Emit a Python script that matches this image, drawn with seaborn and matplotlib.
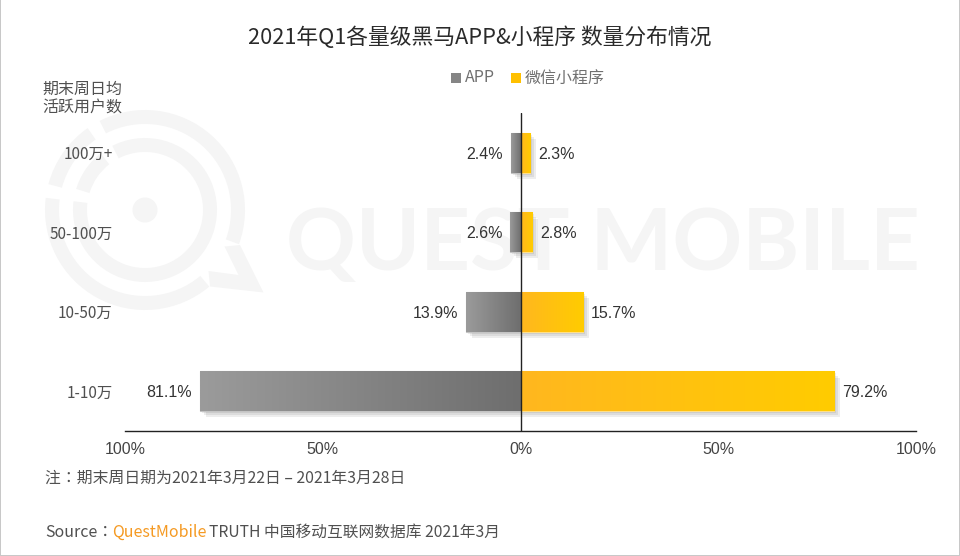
import numpy as np
import pandas as pd
import matplotlib
matplotlib.use('Agg')
import matplotlib.pyplot as plt
import matplotlib.patheffects as pe
from matplotlib.colors import LinearSegmentedColormap
from matplotlib.patches import Wedge, Circle, Rectangle, Polygon
import seaborn as sns

categories = ['100万+', '50-100万', '10-50万', '1-10万']
app_share = [2.4, 2.6, 13.9, 81.1]
mini_share = [2.3, 2.8, 15.7, 79.2]
x_ticks = [-100, -50, 0, 50, 100]
x_tick_labels = ['100%', '50%', '0%', '50%', '100%']

LATIN = ['Liberation Sans', 'Noto Sans CJK SC', 'DejaVu Sans']
CJK = ['Noto Sans CJK SC', 'DejaVu Sans']
CJK_TC = ['Noto Sans CJK TC', 'DejaVu Sans']
W, H = 960, 556

sns.set_theme(style='white')
plt.rcParams['font.family'] = LATIN

df = pd.DataFrame({
    'cat': categories * 2,
    'value': [-v for v in app_share] + mini_share,
    'series': ['APP'] * 4 + ['微信小程序'] * 4,
})

fig = plt.figure(figsize=(W / 100, H / 100), dpi=100)
ax = fig.add_axes([125 / W, 1 - 431 / H, 791 / W, 318 / H])
ax.set_zorder(2)
ax.patch.set_alpha(0)

# watermark sits on its own pixel-coordinate axes behind the chart
bg = fig.add_axes([0, 0, 1, 1], zorder=0)
bg.set_xlim(0, W)
bg.set_ylim(H, 0)
bg.axis('off')
WM = '#f5f5f5'
cx, cy = 145, 210
for r, t1, t2 in [(100, -20, 117), (100, 125, 165), (100, 173, 310),
                  (72, 173, 477), (72, 128, 163)]:
    # y axis is flipped, so angles are mirrored
    bg.add_patch(Wedge((cx, cy), r, -t2, -t1, width=14, color=WM, lw=0))
bg.add_patch(Circle((cx, cy), 12.5, color=WM, lw=0))
bg.add_patch(Polygon([(240, 245), (263.5, 292.5), (210, 286.5), (208.5, 271), (238.5, 275), (224.5, 246.5)],
                     color=WM, lw=0))
bg.text(286, 245, 'QUEST MOBILE', fontsize=62.4, color=WM, va='center', ha='left',
        family=['Lato'], weight='bold')
for r in [((0, 0), 1, H), ((958.5, 0), 1.5, H), ((0, H - 1.5), W, 1.5)]:
    bg.add_patch(Rectangle(*r, color='#c8c8c8', lw=0))

sns.barplot(data=df, y='cat', x='value', hue='series', dodge=False, order=categories,
            palette={'APP': '#888888', '微信小程序': '#ffc000'}, width=0.5,
            legend=False, ax=ax)

# gradient fill and soft drop shadow on each bar
gray_cm = LinearSegmentedColormap.from_list('g', ['#9b9b9b', '#6e6e6e'])
gold_cm = LinearSegmentedColormap.from_list('y', ['#ffb71f', '#ffcc00'])
grad = np.linspace(0, 1, 256).reshape(1, -1)
shadow = [pe.SimplePatchShadow(offset=(o, -o), shadow_rgbFace='#000000', alpha=0.07) for o in (1.5, 3, 4.5)]
for p in ax.patches:
    b = p.get_bbox()
    if b.width == 0:
        continue
    x0, x1 = sorted([b.x0, b.x1])
    y0, y1 = sorted([b.y0, b.y1])
    is_app = x1 <= 0
    p.set_edgecolor('#c4c4c4' if is_app else '#ffe08a')
    p.set_linewidth(0.8)
    p.set_path_effects(shadow + [pe.Normal()])
    p.set_zorder(2)
    im = ax.imshow(grad, extent=[x0, x1, y1, y0], aspect='auto', zorder=2.5,
                   cmap=gray_cm if is_app else gold_cm, interpolation='bilinear')
    im.set_clip_path(p)
ax.set_xlim(-100, 100)
ax.set_ylim(3.5, -0.5)

for i, (a, m) in enumerate(zip(app_share, mini_share)):
    ax.annotate(f'{a}%', (-a, i), xytext=(-5.5, -1), textcoords='offset points', ha='right',
                va='center', fontsize=11.5, color='#333333')
    ax.annotate(f'{m}%', (m, i), xytext=(6, -1), textcoords='offset points', ha='left',
                va='center', fontsize=11.5, color='#333333')

ax.axvline(0, color='#222222', lw=1, zorder=4)
sns.despine(ax=ax, left=True, top=True, right=True)
ax.spines['bottom'].set_color('#222222')
ax.spines['bottom'].set_linewidth(1)
ax.set_xticks(x_ticks)
ax.set_xticklabels(x_tick_labels, fontsize=11.5, color='#444444')
ax.tick_params(axis='x', length=0, pad=8)
ax.set_yticks(range(len(categories)))
ax.set_yticklabels(categories, fontsize=11, color='#505050', family=CJK)
ax.tick_params(axis='y', length=0, pad=9)
ax.set_xlabel('')
ax.set_ylabel('')

def t(x, y, s, **kw):
    kw.setdefault('va', 'center')
    kw.setdefault('color', '#505050')
    kw.setdefault('family', CJK)
    kw.setdefault('fontsize', 11.5)
    return fig.text(x / W, 1 - y / H, s, **kw)

t(480, 37.5, '2021年Q1各量级黑马APP&小程序 数量分布情况', fontsize=15.7, ha='center', color='#2a2a2a')
t(42, 89, '期末周日均')
t(42, 108, '活跃用户数')

bg.add_patch(Rectangle((451, 73), 10, 10, color='#858585', lw=0))
bg.add_patch(Rectangle((511, 73), 10, 10, color='#ffc000', lw=0))
t(465, 78, 'APP', color='#707070')
t(525, 78, '微信小程序', color='#707070')

t(45, 478, '注：期末周日期为2021年3月22日 – 2021年3月28日', family=CJK_TC, fontsize=11.4)
t(45, 532.5, 'Source：', family=CJK_TC)
t(112, 532.5, 'QuestMobile', fontsize=11.5, color='#f59a23')
t(209, 532.5, 'TRUTH 中国移动互联网数据库 2021年3月', fontsize=11.3)

fig.savefig('out.png', dpi=100)
